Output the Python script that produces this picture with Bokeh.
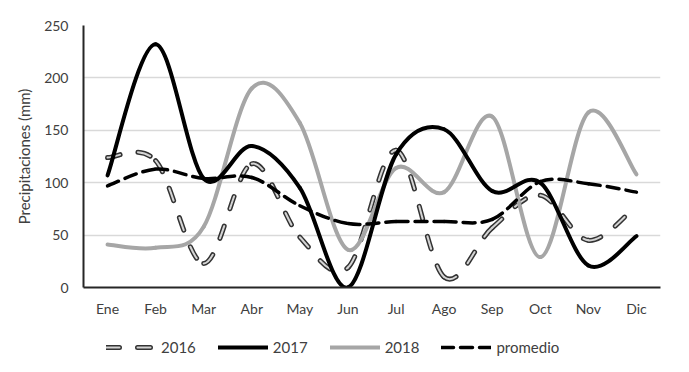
import numpy as np
from bokeh.plotting import figure
from bokeh.layouts import column
from bokeh.models import Range1d, FixedTicker, Legend, LegendItem, ColumnDataSource
from bokeh.embed import file_html
from bokeh.resources import INLINE

months = ["Ene", "Feb", "Mar", "Abr", "May", "Jun", "Jul", "Ago", "Sep", "Oct", "Nov", "Dic"]
y2016 = [124, 121, 23, 118, 48, 19, 131, 10, 57, 88, 45, 78]
y2017 = [107, 232, 104, 135, 95, 0, 127, 151, 92, 100, 21, 49]
y2018 = [41, 38, 58, 190, 157, 36, 114, 91, 163, 29, 167, 108]
promedio = [97, 113, 104, 105, 78, 61, 63, 63, 65, 101, 99, 91]
y_ticks = [0, 50, 100, 150, 200, 250]
series_names = ["2016", "2017", "2018", "promedio"]

FONT = "Lato"
TXT = "#404040"

STYLE_16_OUT = dict(line_color="#333333", line_width=5, line_dash="13 18", line_cap="round")
STYLE_16_IN = dict(line_color="#d4d4d4", line_width=2, line_dash="13 18", line_cap="round")
STYLE_17 = dict(line_color="#000000", line_width=4, line_cap="round", line_join="round")
STYLE_18 = dict(line_color="#a6a6a6", line_width=4, line_cap="round", line_join="round")
STYLE_PR = dict(line_color="#000000", line_width=3.5, line_dash="12 7", line_cap="round")

x_pos = list(range(1, len(months) + 1))


def bezier_source(ys):
    xs = np.asarray(x_pos, dtype=float)
    ys = np.asarray(ys, dtype=float)
    n = len(xs)
    i = np.arange(n - 1)
    im1 = np.clip(i - 1, 0, n - 1)
    ip2 = np.clip(i + 2, 0, n - 1)
    return ColumnDataSource(dict(
        x0=xs[i], y0=ys[i], x1=xs[i + 1], y1=ys[i + 1],
        cx0=xs[i] + (xs[i + 1] - xs[im1]) / 6.0,
        cy0=ys[i] + (ys[i + 1] - ys[im1]) / 6.0,
        cx1=xs[i + 1] - (xs[ip2] - xs[i]) / 6.0,
        cy1=ys[i + 1] - (ys[ip2] - ys[i]) / 6.0,
    ))


p = figure(width=689, height=320,
           x_range=Range1d(0.5, 12.5), y_range=Range1d(0, 250),
           output_backend="svg", toolbar_location=None,
           min_border_left=83, min_border_top=25, min_border_right=29,
           min_border_bottom=33)
p.outline_line_color = None
p.background_fill_color = "white"
p.border_fill_color = "white"

p.xgrid.grid_line_color = None
p.ygrid.grid_line_color = "#d9d9d9"
p.ygrid.grid_line_width = 1.5

p.yaxis.ticker = FixedTicker(ticks=y_ticks)
p.xaxis.ticker = FixedTicker(ticks=x_pos)
p.xaxis.major_label_overrides = {i + 1: m for i, m in enumerate(months)}

for ax in (p.xaxis[0], p.yaxis[0]):
    ax.axis_line_color = "#262626"
    ax.axis_line_width = 2
    ax.major_tick_line_color = None
    ax.minor_tick_line_color = None
    ax.major_tick_out = 0
    ax.major_tick_in = 0
    ax.minor_tick_out = 0
    ax.minor_tick_in = 0
    ax.major_label_text_font = FONT
    ax.major_label_text_font_size = "14px"
    ax.major_label_text_color = TXT

p.xaxis.major_label_standoff = 12

p.yaxis.major_label_standoff = 15
p.yaxis.axis_label = "Precipitaciones (mm)"
p.yaxis.axis_label_text_font = FONT
p.yaxis.axis_label_text_font_size = "15px"
p.yaxis.axis_label_text_font_style = "normal"
p.yaxis.axis_label_text_color = TXT
p.yaxis.axis_label_standoff = 8

bez_kw = dict(x0="x0", y0="y0", x1="x1", y1="y1", cx0="cx0", cy0="cy0", cx1="cx1", cy1="cy1")

p.bezier(source=bezier_source(y2016), **STYLE_16_OUT, **bez_kw)
p.bezier(source=bezier_source(y2016), **STYLE_16_IN, **bez_kw)
p.bezier(source=bezier_source(y2018), **STYLE_18, **bez_kw)
p.bezier(source=bezier_source(y2017), **STYLE_17, **bez_kw)
p.bezier(source=bezier_source(promedio), **STYLE_PR, **bez_kw)

# legend strip below the chart (separate figure so the legend is not clipped);
# its ranges are set so the series lines themselves fall outside its view
pl = figure(width=689, height=52, x_range=Range1d(-20, -19), y_range=Range1d(0, 1),
            x_axis_type=None, y_axis_type=None, output_backend="svg",
            toolbar_location=None, min_border=0)
pl.outline_line_color = None
pl.background_fill_color = "white"
pl.border_fill_color = "white"

l16o = pl.line(x=x_pos, y=y2016, **STYLE_16_OUT)
l16i = pl.line(x=x_pos, y=y2016, **STYLE_16_IN)
l17 = pl.line(x=x_pos, y=y2017, **STYLE_17)
l18 = pl.line(x=x_pos, y=y2018, **STYLE_18)
lpr = pl.line(x=x_pos, y=promedio, **STYLE_PR)

legend = Legend(items=[
    LegendItem(label=series_names[0], renderers=[l16o, l16i]),
    LegendItem(label=series_names[1], renderers=[l17]),
    LegendItem(label=series_names[2], renderers=[l18]),
    LegendItem(label=series_names[3], renderers=[lpr]),
], orientation="horizontal", location=(23, 15),
    glyph_width=50, glyph_height=20, label_standoff=5, spacing=22,
    padding=0, margin=0, border_line_color=None, background_fill_alpha=0,
    label_text_font=FONT, label_text_font_size="15px", label_text_color=TXT)
pl.add_layout(legend, "center")

layout = column(p, pl, spacing=0)
open("out.html", "w").write(file_html(layout, INLINE))
